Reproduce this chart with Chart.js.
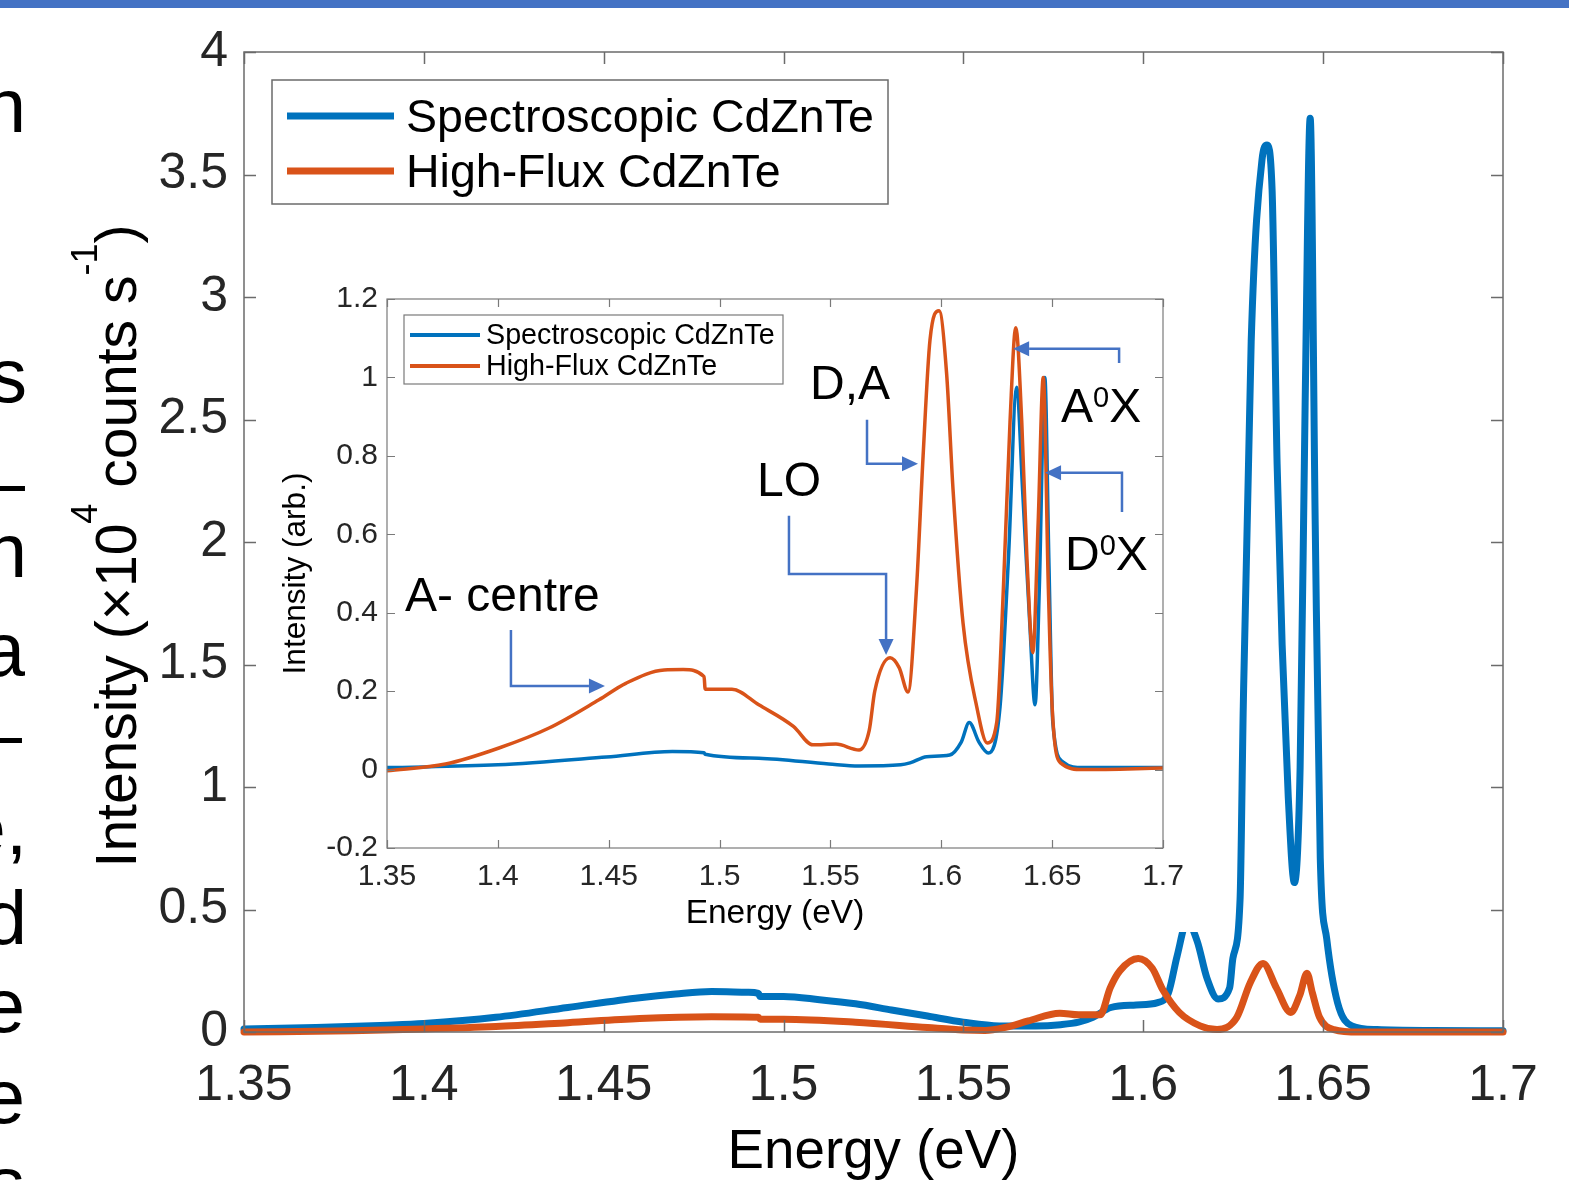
<!DOCTYPE html>
<html>
<head>
<meta charset="utf-8">
<script src="https://cdn.jsdelivr.net/npm/chart.js@4.4.1/dist/chart.umd.min.js"></script>
<style>
  body { margin: 0; background: #fff; width: 1569px; height: 1181px; overflow: hidden; position: relative; }
  #topbar { position: absolute; left: 0; top: 0; width: 1569px; height: 8px; background: #4472c4; z-index: 5; }
  #mainChart { position: absolute; left: 0; top: 0; z-index: 1; }
  #insetChart { position: absolute; left: 262px; top: 282px; z-index: 2; }
  .frag { position: absolute; left: 0; height: 100px; overflow: hidden; z-index: 3; }
  .frag span { position: absolute; right: 0; top: 0; font-family: "Liberation Sans", Arial, sans-serif;
               font-size: 76px; line-height: 76px; white-space: nowrap; color: #000; }
</style>
</head>
<body>
<div id="topbar"></div>
<canvas id="mainChart" width="1569" height="1181"></canvas>
<canvas id="insetChart" width="940" height="650"></canvas>
<div id="frags"></div>
<script>
// ---- data ----
const seriesNames = ['Spectroscopic CdZnTe', 'High-Flux CdZnTe'];

// main plot (x10^4 counts/s)
const mainEnergyBlue = [1.35, 1.37, 1.39, 1.40, 1.42, 1.44, 1.46, 1.47, 1.48, 1.49, 1.493, 1.4935, 1.50, 1.51, 1.52, 1.53, 1.54, 1.55, 1.56, 1.57,
  1.577, 1.582, 1.586, 1.591, 1.598, 1.604, 1.607, 1.6094, 1.6122, 1.615, 1.6177, 1.6208, 1.624, 1.6249, 1.6269, 1.6278, 1.630, 1.633, 1.6344, 1.6358,
  1.6372, 1.6386, 1.6403, 1.642, 1.6436, 1.645, 1.6464, 1.6478, 1.6492, 1.651, 1.654, 1.658, 1.665, 1.68, 1.70];
const mainSpectroscopic = [0.012, 0.018, 0.028, 0.035, 0.06, 0.10, 0.14, 0.155, 0.165, 0.162, 0.158, 0.145, 0.145, 0.132, 0.115, 0.09, 0.065, 0.04, 0.025, 0.025,
  0.03, 0.04, 0.06, 0.10, 0.11, 0.12, 0.16, 0.31, 0.45, 0.37, 0.22, 0.135, 0.18, 0.30, 0.54, 1.33, 2.82, 3.56, 3.62, 3.44,
  2.32, 1.58, 0.96, 0.61, 1.08, 2.57, 3.73, 2.07, 0.71, 0.38, 0.12, 0.025, 0.01, 0.006, 0.005];
const mainEnergyOrange = [1.35, 1.38, 1.40, 1.42, 1.44, 1.46, 1.48, 1.493, 1.4935, 1.50, 1.52, 1.54, 1.55, 1.556, 1.562, 1.568, 1.5768, 1.582, 1.588, 1.5908,
  1.5935, 1.5986, 1.6025, 1.6055, 1.61, 1.6158, 1.6205, 1.626, 1.6297, 1.6333, 1.637, 1.641, 1.6435, 1.6455, 1.647, 1.649, 1.653, 1.66, 1.70];
const mainHighFlux = [0.0, 0.005, 0.012, 0.022, 0.038, 0.055, 0.062, 0.06, 0.052, 0.052, 0.04, 0.018, 0.008, 0.006, 0.02, 0.045, 0.077, 0.07, 0.07, 0.18,
  0.25, 0.30, 0.26, 0.17, 0.08, 0.025, 0.01, 0.06, 0.20, 0.28, 0.18, 0.08, 0.15, 0.24, 0.16, 0.06, 0.01, 0.0, 0.0];

// inset (arb.)
const insetEnergyBlue = [1.35, 1.40, 1.449, 1.4787, 1.493, 1.4935, 1.5177, 1.5493, 1.5629, 1.5817, 1.5859, 1.5934, 1.6038, 1.609, 1.6126, 1.617, 1.6212, 1.6265, 1.6303, 1.634,
  1.6367, 1.6399, 1.6423, 1.6442, 1.6467, 1.6485, 1.6503, 1.6548, 1.664, 1.70];
const insetSpectroscopic = [0.005, 0.012, 0.032, 0.046, 0.043, 0.039, 0.029, 0.014, 0.009, 0.012, 0.017, 0.033, 0.037, 0.07, 0.12, 0.07, 0.042, 0.16, 0.54, 0.975,
  0.71, 0.374, 0.165, 0.46, 1.0, 0.54, 0.12, 0.02, 0.005, 0.005];
const insetEnergyOrange = [1.35, 1.3764, 1.4005, 1.4231, 1.4456, 1.4577, 1.475, 1.4836, 1.493, 1.4935, 1.5056, 1.5177, 1.5333, 1.5421, 1.5525, 1.5629, 1.5675, 1.57, 1.5769, 1.581,
  1.585, 1.5888, 1.5918, 1.5949, 1.599, 1.6024, 1.6053, 1.6098, 1.616, 1.6207, 1.625, 1.628, 1.631, 1.6336, 1.6363, 1.6386, 1.6413, 1.6437, 1.646, 1.6483,
  1.65, 1.6538, 1.664, 1.70];
const insetHighFlux = [-0.003, 0.014, 0.055, 0.106, 0.178, 0.22, 0.254, 0.255, 0.237, 0.205, 0.205, 0.165, 0.11, 0.063, 0.065, 0.05, 0.1, 0.2, 0.285, 0.26,
  0.198, 0.46, 0.80, 1.095, 1.17, 1.01, 0.714, 0.374, 0.16, 0.068, 0.12, 0.46, 0.886, 1.127, 0.886, 0.543, 0.298, 0.63, 1.0, 0.46,
  0.16, 0.017, 0.0, 0.004];

const mainXTicks = [1.35, 1.4, 1.45, 1.5, 1.55, 1.6, 1.65, 1.7];
const mainYTicks = [0, 0.5, 1, 1.5, 2, 2.5, 3, 3.5, 4];
const insetXTicks = [1.35, 1.4, 1.45, 1.5, 1.55, 1.6, 1.65, 1.7];
const insetYTicks = [-0.2, 0, 0.2, 0.4, 0.6, 0.8, 1, 1.2];

// peak labels and their arrows, in inset data coordinates (energy, intensity)
const peakLabels = [
  { parts: [['A- centre', 0]], at: [1.3581, 0.4046] },
  { parts: [['LO', 0]], at: [1.5169, 0.698] },
  { parts: [['D,A', 0]], at: [1.5408, 0.9454] },
  { parts: [['A', 0], ['0', 1], ['X', 0]], at: [1.654, 0.8868] },
  { parts: [['D', 0], ['0', 1], ['X', 0]], at: [1.6558, 0.5092] }
];
const peakArrows = [
  [[1.4059, 0.356], [1.4059, 0.213], [1.4483, 0.213]],
  [[1.5313, 0.647], [1.5313, 0.499], [1.5751, 0.499], [1.5751, 0.292]],
  [[1.5665, 0.892], [1.5665, 0.780], [1.5895, 0.780]],
  [[1.6802, 1.037], [1.6802, 1.073], [1.6324, 1.073]],
  [[1.6815, 0.657], [1.6815, 0.757], [1.6468, 0.757]]
];

// ---- drawing helpers ----
const FONT = '"Liberation Sans", Arial, Helvetica, sans-serif';
const BLUE = '#0072BD', ORANGE = '#D95319', ARROW = '#4472C4';

function fmtTick(v) { return String(Math.round(v * 100) / 100); }
function series(energy, values) { return energy.map((e, i) => ({ x: e, y: values[i] })); }

// text with superscripts: parts = [[text, isSup], ...]
function drawRich(ctx, parts, x, y, size, supSize, raise, align) {
  let total = 0;
  const w = parts.map(p => {
    ctx.font = (p[1] ? supSize : size) + 'px ' + FONT;
    const m = ctx.measureText(p[0]).width;
    total += m;
    return m;
  });
  let cx = align === 'center' ? x - total / 2 : x;
  ctx.textAlign = 'left';
  ctx.textBaseline = 'alphabetic';
  parts.forEach((p, i) => {
    ctx.font = (p[1] ? supSize : size) + 'px ' + FONT;
    ctx.fillText(p[0], cx, p[1] ? y - raise : y);
    cx += w[i];
  });
}

const whiteBackground = {
  id: 'whiteBackground',
  beforeDraw(chart) {
    const c = chart.ctx;
    c.save();
    c.fillStyle = '#fff';
    c.fillRect(0, 0, chart.width, chart.height);
    c.restore();
  }
};

// box round the plot with inward ticks on all four sides
const matlabFrame = {
  id: 'matlabFrame',
  afterDatasetsDraw(chart, args, o) {
    const { ctx, chartArea: a, scales: { x, y } } = chart;
    ctx.save();
    ctx.strokeStyle = o.color;
    ctx.lineWidth = o.lineWidth;
    ctx.beginPath();
    x.ticks.forEach(t => {
      const px = Math.round(x.getPixelForValue(t.value)) + 0.5;
      ctx.moveTo(px, a.bottom); ctx.lineTo(px, a.bottom - o.tick);
      ctx.moveTo(px, a.top); ctx.lineTo(px, a.top + o.tick);
    });
    y.ticks.forEach(t => {
      const py = Math.round(y.getPixelForValue(t.value)) + 0.5;
      ctx.moveTo(a.left, py); ctx.lineTo(a.left + o.tick, py);
      ctx.moveTo(a.right, py); ctx.lineTo(a.right - o.tick, py);
    });
    ctx.stroke();
    ctx.strokeRect(a.left, a.top, a.right - a.left, a.bottom - a.top);
    ctx.restore();
  }
};

const boxLegend = {
  id: 'boxLegend',
  afterDraw(chart, args, o) {
    const ctx = chart.ctx;
    const [x0, y0, x1, y1] = o.box;
    ctx.save();
    ctx.fillStyle = '#fff';
    ctx.fillRect(x0, y0, x1 - x0, y1 - y0);
    ctx.strokeStyle = o.border;
    ctx.lineWidth = o.borderWidth;
    ctx.strokeRect(x0, y0, x1 - x0, y1 - y0);
    chart.data.datasets.forEach((ds, i) => {
      ctx.strokeStyle = ds.borderColor;
      ctx.lineWidth = o.lineWidth;
      ctx.beginPath();
      ctx.moveTo(o.lineX[0], o.rows[i]);
      ctx.lineTo(o.lineX[1], o.rows[i]);
      ctx.stroke();
      ctx.fillStyle = '#000';
      ctx.font = o.size + 'px ' + FONT;
      ctx.textAlign = 'left';
      ctx.textBaseline = 'alphabetic';
      ctx.fillText(ds.label, o.textX, o.baselines[i]);
    });
    ctx.restore();
  }
};

const axisTitles = {
  id: 'axisTitles',
  afterDraw(chart, args, o) {
    const ctx = chart.ctx, a = chart.chartArea;
    ctx.save();
    ctx.fillStyle = '#000';
    drawRich(ctx, o.x.parts, (a.left + a.right) / 2, o.x.baseline, o.x.size, o.x.size, 0, 'center');
    ctx.translate(o.y.baseline, (a.top + a.bottom) / 2 + (o.y.shift || 0));
    ctx.rotate(-Math.PI / 2);
    drawRich(ctx, o.y.parts, 0, 0, o.y.size, o.y.supSize, o.y.raise, 'center');
    ctx.restore();
  }
};

const peakNotes = {
  id: 'peakNotes',
  afterDatasetsDraw(chart) {
    const { ctx, scales: { x, y } } = chart;
    ctx.save();
    ctx.strokeStyle = ARROW;
    ctx.fillStyle = ARROW;
    ctx.lineWidth = 2.5;
    peakArrows.forEach(path => {
      const pts = path.map(p => [x.getPixelForValue(p[0]), y.getPixelForValue(p[1])]);
      const tip = pts[pts.length - 1], prev = pts[pts.length - 2];
      const len = Math.hypot(tip[0] - prev[0], tip[1] - prev[1]);
      const dx = (tip[0] - prev[0]) / len, dy = (tip[1] - prev[1]) / len;
      const head = 16, half = 7.5;
      const bx = tip[0] - dx * head, by = tip[1] - dy * head;
      ctx.beginPath();
      ctx.moveTo(pts[0][0], pts[0][1]);
      for (let i = 1; i < pts.length - 1; i++) ctx.lineTo(pts[i][0], pts[i][1]);
      ctx.lineTo(bx, by);
      ctx.stroke();
      ctx.beginPath();
      ctx.moveTo(tip[0], tip[1]);
      ctx.lineTo(bx - dy * half, by + dx * half);
      ctx.lineTo(bx + dy * half, by - dx * half);
      ctx.closePath();
      ctx.fill();
    });
    ctx.fillStyle = '#000';
    peakLabels.forEach(l => {
      drawRich(ctx, l.parts, x.getPixelForValue(l.at[0]), y.getPixelForValue(l.at[1]), 48, 29, 15, 'left');
    });
    ctx.restore();
  }
};

function axis(min, max, tickList, size, padding, fit) {
  return {
    type: 'linear', min: min, max: max,
    grid: { display: false, drawTicks: false }, border: { display: false },
    afterBuildTicks: s => { s.ticks = tickList.map(v => ({ value: v })); },
    afterFit: s => {
      fit(s);
      // layout padding alone decides where the plot box sits
      s.paddingTop = 0; s.paddingBottom = 0; s.paddingLeft = 0; s.paddingRight = 0;
    },
    ticks: { callback: fmtTick, font: { family: FONT, size: size }, color: '#262626', padding: padding, maxRotation: 0, autoSkip: false }
  };
}

// ---- main chart ----
new Chart(document.getElementById('mainChart'), {
  type: 'line',
  data: {
    datasets: [
      { label: seriesNames[0], data: series(mainEnergyBlue, mainSpectroscopic), borderColor: BLUE, borderWidth: 7, order: 1, clip: { left: 4, top: 6, right: 4, bottom: 6 } },
      { label: seriesNames[1], data: series(mainEnergyOrange, mainHighFlux), borderColor: ORANGE, borderWidth: 7, order: 0, clip: { left: 4, top: 6, right: 4, bottom: 6 } }
    ]
  },
  options: {
    responsive: false, animation: false, devicePixelRatio: 1, events: [],
    layout: { padding: { left: 0, top: 52, right: 66, bottom: 0 } },
    elements: { point: { radius: 0 }, line: { cubicInterpolationMode: 'monotone', borderJoinStyle: 'round', borderCapStyle: 'round' } },
    scales: {
      x: axis(1.35, 1.7, mainXTicks, 50, 24, s => { s.height = 149; }),
      y: axis(0, 4, mainYTicks, 50, 16, s => { s.width = 244; })
    },
    plugins: {
      legend: { display: false },
      tooltip: { enabled: false },
      matlabFrame: { color: '#6b6b6b', lineWidth: 1.5, tick: 12 },
      boxLegend: { box: [272, 80, 888, 204], border: '#6b6b6b', borderWidth: 1.5, lineWidth: 7,
                   lineX: [287, 394], rows: [116, 171], textX: 406, baselines: [132, 187], size: 46.5 },
      axisTitles: {
        x: { parts: [['Energy (eV)', 0]], baseline: 1168, size: 54.7 },
        y: { parts: [['Intensity (\u00d710', 0], ['4', 1], [' counts s', 0], ['-1', 1], [')', 0]],
             baseline: 136, size: 57, supSize: 36, raise: 39, shift: 4 }
      }
    }
  },
  plugins: [whiteBackground, matlabFrame, boxLegend, axisTitles]
});

// ---- inset chart ----
new Chart(document.getElementById('insetChart'), {
  type: 'line',
  data: {
    datasets: [
      { label: seriesNames[0], data: series(insetEnergyBlue, insetSpectroscopic), borderColor: BLUE, borderWidth: 3.5, order: 1, clip: { left: 2, top: 3, right: 2, bottom: 3 } },
      { label: seriesNames[1], data: series(insetEnergyOrange, insetHighFlux), borderColor: ORANGE, borderWidth: 3.5, order: 0, clip: { left: 2, top: 3, right: 2, bottom: 3 } }
    ]
  },
  options: {
    responsive: false, animation: false, devicePixelRatio: 1, events: [],
    layout: { padding: { left: 0, top: 17, right: 39, bottom: 0 } },
    elements: { point: { radius: 0 }, line: { cubicInterpolationMode: 'monotone', borderJoinStyle: 'round' } },
    scales: {
      x: axis(1.35, 1.7, insetXTicks, 30, 11, s => { s.height = 84; }),
      y: axis(-0.2, 1.2, insetYTicks, 30, 9, s => { s.width = 125; })
    },
    plugins: {
      legend: { display: false },
      tooltip: { enabled: false },
      matlabFrame: { color: '#7a7a7a', lineWidth: 1.2, tick: 8 },
      boxLegend: { box: [142, 33, 521, 102], border: '#7a7a7a', borderWidth: 1.2, lineWidth: 4,
                   lineX: [148, 218], rows: [53, 84], textX: 224, baselines: [62, 93], size: 28.7 },
      axisTitles: {
        x: { parts: [['Energy (eV)', 0]], baseline: 641, size: 33.5 },
        y: { parts: [['Intensity (arb.)', 0]], baseline: 43, size: 31.6, supSize: 31.6, raise: 0 }
      }
    }
  },
  plugins: [whiteBackground, peakNotes, matlabFrame, boxLegend, axisTitles]
});

// ---- cut-off slide text at the left edge ----
[['n', 26, 132], ['s', 27, 402], ['\u2013', 25, 508], ['n', 27, 577], ['a', 25, 676], ['\u2013', 22, 760],
 ['e,', 27, 854], ['d', 27, 944], ['e', 25, 1032], ['e', 25, 1123], ['s', 25, 1210]].forEach(f => {
  const box = document.createElement('div');
  box.className = 'frag';
  box.style.width = f[1] + 'px';
  box.style.top = (f[2] - 64.3) + 'px';
  const s = document.createElement('span');
  s.textContent = f[0];
  box.appendChild(s);
  document.getElementById('frags').appendChild(box);
});
</script>
</body>
</html>
